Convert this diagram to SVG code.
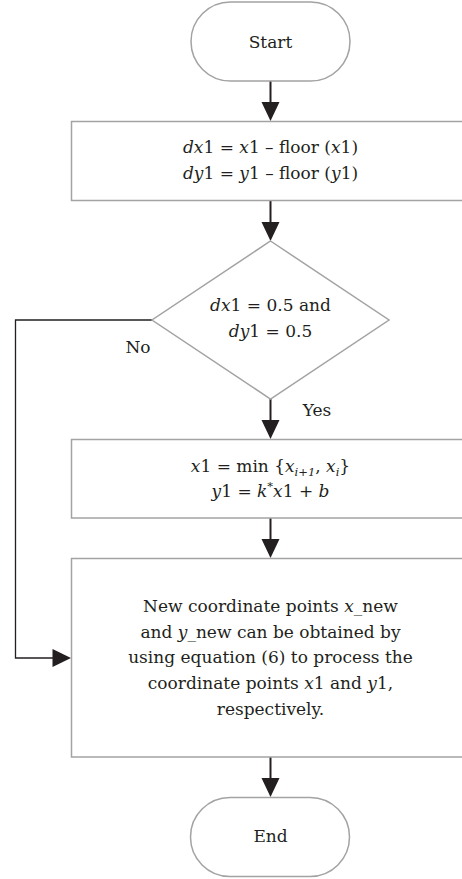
<svg xmlns="http://www.w3.org/2000/svg" width="462" height="879" viewBox="0 0 462 879">
<style>
.shape{fill:#fff;stroke:#a3a3a3;stroke-width:1.5}
.t{font-family:'DejaVu Serif','Liberation Serif',serif;font-size:17px;fill:#231f20;text-anchor:middle}
.i{font-style:italic}
.sub{font-size:11.5px;font-style:italic}
.c{fill:none;stroke:#231f20;stroke-width:2}
.cn{fill:none;stroke:#231f20;stroke-width:1.3}
.ah{fill:#231f20;stroke:none}
</style>
<rect width="462" height="879" fill="#fff"/>
<g id="connectors">
<line class="c" x1="270.5" y1="81" x2="270.5" y2="104"/>
<polygon class="ah" points="261.5,102 279.5,102 270.5,121"/>
<line class="c" x1="270.5" y1="201" x2="270.5" y2="224"/>
<polygon class="ah" points="261.5,222 279.5,222 270.5,241"/>
<line class="c" x1="270.5" y1="399" x2="270.5" y2="422"/>
<polygon class="ah" points="261.5,420 279.5,420 270.5,439"/>
<line class="c" x1="270.5" y1="518" x2="270.5" y2="541"/>
<polygon class="ah" points="261.5,539 279.5,539 270.5,558"/>
<line class="c" x1="270.5" y1="757" x2="270.5" y2="780"/>
<polygon class="ah" points="261.5,778 279.5,778 270.5,797"/>
<polyline class="cn" points="152,320 15.5,320 15.5,658 55,658"/>
<polygon class="ah" points="52.5,649 52.5,667 71,658"/>
<text class="t" x="138" y="353">No</text>
<text class="t" x="317" y="416">Yes</text>
</g>
<g id="start">
<rect class="shape" x="191" y="2" width="159" height="79" rx="39.5" ry="39.5"/>
<text class="t" x="270.5" y="48">Start</text>
</g>
<g id="box1">
<rect class="shape" x="71.5" y="121.5" width="398" height="79"/>
<text class="t" x="270.5" y="153"><tspan class="i">dx</tspan>1 = <tspan class="i">x</tspan>1 – floor (<tspan class="i">x</tspan>1)</text>
<text class="t" x="270.5" y="179"><tspan class="i">dy</tspan>1 = <tspan class="i">y</tspan>1 – floor (<tspan class="i">y</tspan>1)</text>
</g>
<g id="decision">
<polygon class="shape" points="270.5,241 389,320 270.5,399 152,320"/>
<text class="t" x="270.5" y="311"><tspan class="i">dx</tspan>1 = 0.5 and</text>
<text class="t" x="270.5" y="337"><tspan class="i">dy</tspan>1 = 0.5</text>
</g>
<g id="box2">
<rect class="shape" x="71.5" y="439.5" width="398" height="78.5"/>
<text class="t" x="270.5" y="472"><tspan class="i">x</tspan>1 = min {<tspan class="i">x</tspan><tspan class="sub" dy="4">i</tspan><tspan class="sub">+1</tspan><tspan dy="-4">, </tspan><tspan class="i">x</tspan><tspan class="sub" dy="4">i</tspan><tspan dy="-4">}</tspan></text>
<text class="t" x="270.5" y="497"><tspan class="i">y</tspan>1 = <tspan class="i">k</tspan><tspan font-size="11.5" dy="-7">*</tspan><tspan class="i" dy="7">x</tspan>1 + <tspan class="i">b</tspan></text>
</g>
<g id="box3">
<rect class="shape" x="71.5" y="558.5" width="398" height="198.5"/>
<text class="t" x="270.5" y="612">New coordinate points <tspan class="i">x</tspan>_new</text>
<text class="t" x="270.5" y="637.5">and <tspan class="i">y</tspan>_new can be obtained by</text>
<text class="t" x="270.5" y="663">using equation (6) to process the</text>
<text class="t" x="270.5" y="689">coordinate points <tspan class="i">x</tspan>1 and <tspan class="i">y</tspan>1,</text>
<text class="t" x="270.5" y="715">respectively.</text>
</g>
<g id="end">
<rect class="shape" x="190.5" y="797.5" width="159" height="79" rx="39.5" ry="39.5"/>
<text class="t" x="270.5" y="842">End</text>
</g>
</svg>
